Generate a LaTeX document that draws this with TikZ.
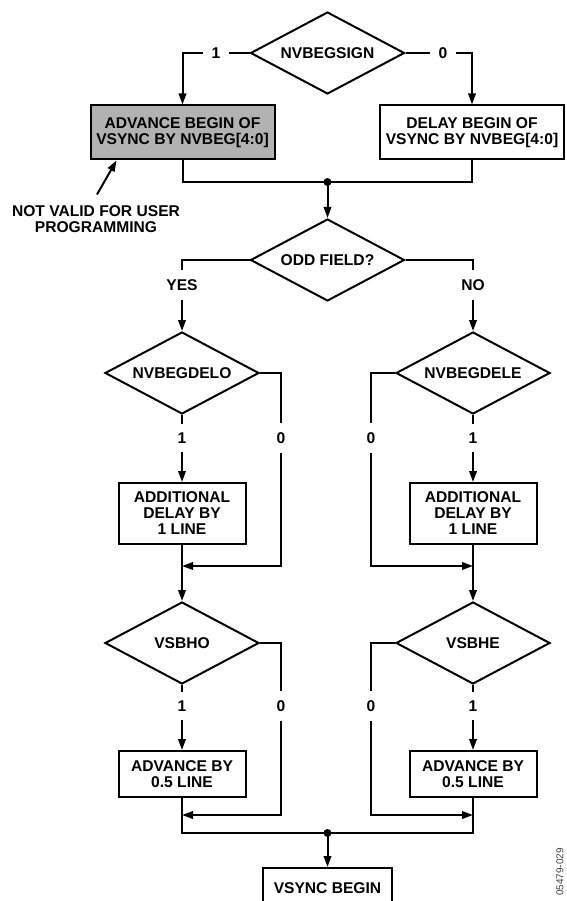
\documentclass[tikz,border=0pt]{standalone}
\usepackage{fontspec}
\setmainfont{Liberation Sans}
\usetikzlibrary{shapes.geometric,arrows.meta}
\begin{document}
\begin{tikzpicture}[x=1pt,y=-1pt,
  font=\fontsize{15.6}{16}\selectfont\bfseries,
  line width=2pt,
  >={Triangle[length=11pt,width=7.5pt]},
  test/.style={diamond,draw,aspect=1.87,minimum width=154pt,minimum height=82pt,inner sep=0pt},
  wide/.style={draw,align=center,inner sep=0pt,minimum width=184pt,minimum height=54pt},
  narrow/.style={draw,align=center,inner sep=0pt,minimum width=127pt},
  lbl/.style={inner sep=8pt}]

\useasboundingbox (0,0) rectangle (566,901);

% decisions
\node[test] (sign) at (327.5,53) {NVBEGSIGN};
\node[test] (odd) at (327.5,260) {ODD FIELD?};
\node[test] (delo) at (182,373) {NVBEGDELO};
\node[test] (dele) at (473,373) {NVBEGDELE};
\node[test] (vsbho) at (182,643) {VSBHO};
\node[test] (vsbhe) at (473,643) {VSBHE};

% actions
\node[wide,fill=black!30] (adv) at (182.5,132.5) {ADVANCE BEGIN OF\\VSYNC BY NVBEG[4:0]};
\node[wide] (del) at (472,132.5) {DELAY BEGIN OF\\VSYNC BY NVBEG[4:0]};
\node[narrow,minimum height=61pt] (add1) at (182,513.5) {ADDITIONAL\\DELAY BY\\1 LINE};
\node[narrow,minimum height=61pt] (add2) at (473,513.5) {ADDITIONAL\\DELAY BY\\1 LINE};
\node[narrow,minimum height=46pt] (half1) at (182,774) {ADVANCE BY\\0.5 LINE};
\node[narrow,minimum height=46pt] (half2) at (473,774) {ADVANCE BY\\0.5 LINE};
\node[narrow,minimum width=129pt,minimum height=40pt] (vsync) at (327.5,888) {VSYNC BEGIN};

\node[align=center,inner sep=0pt] (note) at (96,219) {NOT VALID FOR USER\\PROGRAMMING};
\node[rotate=90,font=\fontsize{10}{12}\selectfont,text=black!75] (tag) at (560,872) {05479-029};

% branch labels
\node[lbl] (s1) at (216,53) {1};
\node[lbl] (s0) at (443,53) {0};
\node[lbl] (yes) at (182,285) {YES};
\node[lbl] (no) at (473,285) {NO};
\node[lbl] (do1) at (182,438) {1};
\node[lbl] (do0) at (281,438) {0};
\node[lbl] (de0) at (371,438) {0};
\node[lbl] (de1) at (473,438) {1};
\node[lbl] (ho1) at (182,706) {1};
\node[lbl] (ho0) at (281,706) {0};
\node[lbl] (he0) at (371,706) {0};
\node[lbl] (he1) at (473,706) {1};

\coordinate (top) at (327.5,182);
\coordinate (jl1) at (182,566);
\coordinate (jr1) at (473,566);
\coordinate (jl2) at (182,815);
\coordinate (jr2) at (473,815);
\coordinate (bot) at (327.5,833);

\draw (sign.west) -- (s1);
\draw[->] (s1) -| (adv.north);
\draw (sign.east) -- (s0);
\draw[->] (s0) -| (del.north);
\draw (adv.south) |- (top) -| (del.south);
\fill (top) circle (4pt);
\draw[->] (top) -- (odd.north);
\draw[->] ([xshift=1pt,yshift=10pt]note.north) -- ([xshift=-66pt]adv.south);

\draw (odd.west) -| (yes);
\draw[->] (yes) -- (delo.north);
\draw (odd.east) -| (no);
\draw[->] (no) -- (dele.north);

\draw (delo.south) -- (do1);
\draw[->] (do1) -- (add1.north);
\draw (delo.east) -| (do0);
\draw[->] (do0) |- (jl1);
\draw[->] (add1.south) -- (vsbho.north);

\draw (dele.south) -- (de1);
\draw[->] (de1) -- (add2.north);
\draw (dele.west) -| (de0);
\draw[->] (de0) |- (jr1);
\draw[->] (add2.south) -- (vsbhe.north);

\draw (vsbho.south) -- (ho1);
\draw[->] (ho1) -- (half1.north);
\draw (vsbho.east) -| (ho0);
\draw[->] (ho0) |- (jl2);

\draw (vsbhe.south) -- (he1);
\draw[->] (he1) -- (half2.north);
\draw (vsbhe.west) -| (he0);
\draw[->] (he0) |- (jr2);

\draw (half1.south) |- (bot) -| (half2.south);
\fill (bot) circle (4pt);
\draw[->] (bot) -- (vsync.north);
\end{tikzpicture}
\end{document}
